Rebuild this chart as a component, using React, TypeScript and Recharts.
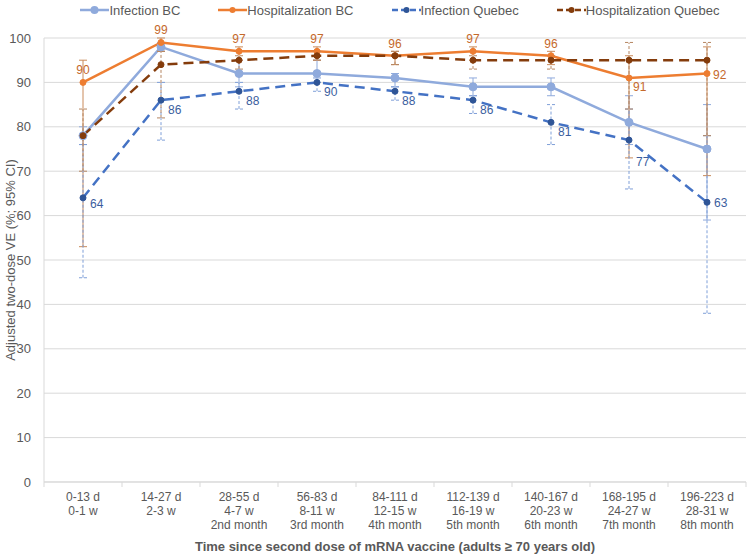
import { LineChart, Line, XAxis, YAxis, CartesianGrid, ErrorBar, Legend } from "recharts";

const days = ["0-13 d", "14-27 d", "28-55 d", "56-83 d", "84-111 d", "112-139 d", "140-167 d", "168-195 d", "196-223 d"];
const weeks = ["0-1 w", "2-3 w", "4-7 w", "8-11 w", "12-15 w", "16-19 w", "20-23 w", "24-27 w", "28-31 w"];
const months = ["", "", "2nd month", "3rd month", "4th month", "5th month", "6th month", "7th month", "8th month"];

// point estimates
const infBC = [78, 98, 92, 92, 91, 89, 89, 81, 75];
const hospBC = [90, 99, 97, 97, 96, 97, 96, 91, 92];
const infQC = [64, 86, 88, 90, 88, 86, 81, 77, 63];
const hospQC = [78, 94, 95, 96, 96, 95, 95, 95, 95];

// 95% CI bounds
const infBCLow = [76, 97, 89, 90, 89, 87, 87, 76, 59];
const infBCHigh = [80, 99, 95, 95, 92, 91, 91, 87, 85];
const hospBCLow = [53, 97, 95, 95, 94, 95, 94, 73, 69];
const hospBCHigh = [95, 100, 98, 98, 97, 98, 97, 96, 98];
const infQCLow = [46, 77, 84, 88, 86, 83, 76, 66, 38];
const infQCHigh = [76, 90, 90, 91, 89, 87, 85, 84, 78];
const hospQCLow = [70, 82, 93, 95, 94, 93, 93, 84, 78];
const hospQCHigh = [84, 97, 96, 97, 97, 96, 96, 99, 99];

const yTicks = [0, 10, 20, 30, 40, 50, 60, 70, 80, 90, 100];

const err = (v: number[], lo: number[], hi: number[], i: number) => [v[i] - lo[i], hi[i] - v[i]];

const data = days.map((d, i) => ({
  day: d,
  infBC: infBC[i],
  infBCErr: err(infBC, infBCLow, infBCHigh, i),
  hospBC: hospBC[i],
  hospBCErr: err(hospBC, hospBCLow, hospBCHigh, i),
  infQC: infQC[i],
  infQCErr: err(infQC, infQCLow, infQCHigh, i),
  hospQC: hospQC[i],
  hospQCErr: err(hospQC, hospQCLow, hospQCHigh, i),
}));

const W = 750;
const H = 555;
const Y_W = 44;
const RIGHT = 4;
const HALF_BAND = (W - Y_W - RIGHT) / days.length / 2;
const FONT = '"Liberation Sans", Arial, sans-serif';
const GREY = "#595959";
const TICK_FS = 12;

const legendItems = [
  { name: "Infection BC", color: "#8FAADC", dash: undefined, r: 4 },
  { name: "Hospitalization BC", color: "#ED7D31", dash: undefined, r: 3 },
  { name: "Infection Quebec", color: "#4472C4", dash: "6 3", r: 3, dot: "#2F5597" },
  { name: "Hospitalization Quebec", color: "#843C0C", dash: "6 3", r: 3 },
];

function LegendBox() {
  return (
    <div style={{ height: 38, width: W, display: "flex", justifyContent: "center", paddingLeft: 50, boxSizing: "border-box", gap: 38 }}>
      {legendItems.map((it) => (
        <div key={it.name} style={{ display: "flex", alignItems: "center", height: 20, fontSize: 13, color: GREY, flexShrink: 0, whiteSpace: "nowrap" }}>
          <svg width={29} height={10} style={{ flexShrink: 0 }}>
            <line x1={0} y1={5} x2={29} y2={5} stroke={it.color} strokeWidth={2.5} strokeDasharray={it.dash} />
            <circle cx={14.5} cy={5} r={it.r} fill={it.dot || it.color} />
          </svg>
          <span>{it.name}</span>
        </div>
      ))}
    </div>
  );
}

function XTick(props: any) {
  const { x, y, payload, index } = props;
  const i = days.indexOf(payload.value);
  return (
    <g>
      <line x1={x - HALF_BAND} y1={y} x2={x - HALF_BAND} y2={y + 5} stroke="#D9D9D9" />
      {index === days.length - 1 && <line x1={x + HALF_BAND} y1={y} x2={x + HALF_BAND} y2={y + 5} stroke="#D9D9D9" />}
      <text x={x} y={y + 19} textAnchor="middle" fill={GREY} fontSize={TICK_FS}>{days[i]}</text>
      <text x={x} y={y + 33} textAnchor="middle" fill={GREY} fontSize={TICK_FS}>{weeks[i]}</text>
      {months[i] && <text x={x} y={y + 47} textAnchor="middle" fill={GREY} fontSize={TICK_FS}>{months[i]}</text>}
    </g>
  );
}

const hospBCLabel = (p: any) => {
  const { x, y, value, index } = p;
  let tx = x, ty = y - 8, anchor = "middle";
  if (index === 7) { tx = x + 4; ty = y + 13; anchor = "start"; }
  if (index === 8) { tx = x + 6; ty = y + 5; anchor = "start"; }
  return <text key={index} x={tx} y={ty} textAnchor={anchor} fill="#C5692B" fontSize={12}>{value}</text>;
};

const infQCLabel = (p: any) => {
  const { x, y, value, index } = p;
  let dy = 14;
  if (index === 0) dy = 10;
  if (index === 7) dy = 26;
  if (index === 8) dy = 5;
  return <text key={index} x={x + 7} y={y + dy} fill="#3B5E9E" fontSize={12}>{value}</text>;
};

export default function App() {
  return (
    <div style={{ position: "absolute", left: 0, top: 0, fontFamily: FONT }}>
      <LineChart width={W} height={H} data={data} margin={{ top: 0, right: RIGHT, left: 0, bottom: 0 }}>
        <Legend verticalAlign="top" align="left" content={() => <LegendBox />} wrapperStyle={{ height: 38 }} />
        <CartesianGrid vertical={false} stroke="#D9D9D9" />
        <XAxis
          dataKey="day"
          height={H - 482}
          padding={{ left: HALF_BAND, right: HALF_BAND }}
          axisLine={{ stroke: "#D9D9D9" }}
          tickLine={false}
          tickSize={0}
          tickMargin={0}
          interval={0}
          tick={<XTick />}
          label={{ value: "Time since second dose of mRNA vaccine (adults ≥ 70 years old)", position: "insideBottom", offset: 4, fill: GREY, fontSize: 13, fontWeight: "bold" }}
        />
        <YAxis
          width={Y_W}
          domain={[0, 100]}
          ticks={yTicks}
          axisLine={{ stroke: "#D9D9D9" }}
          tickLine={false}
          tickSize={6}
          tickMargin={7}
          tick={{ fill: GREY, fontSize: 13 }}
          label={{ value: "Adjusted two-dose VE (%; 95% CI)", angle: -90, position: "insideLeft", offset: 10, fill: GREY, fontSize: 13, style: { textAnchor: "middle" } }}
        />
        <Line dataKey="infBC" name="Infection BC" stroke="#8FAADC" strokeWidth={2.5} isAnimationActive={false}
          dot={{ r: 4, fill: "#8FAADC", stroke: "#8FAADC", strokeWidth: 1 }}>
          <ErrorBar dataKey="infBCErr" direction="y" width={4} stroke="#8FAADC" strokeWidth={1} isAnimationActive={false} />
        </Line>
        <Line dataKey="hospBC" name="Hospitalization BC" stroke="#ED7D31" strokeWidth={2.5} isAnimationActive={false}
          dot={{ r: 3, fill: "#ED7D31", stroke: "#ED7D31", strokeWidth: 1 }} label={hospBCLabel}>
          <ErrorBar dataKey="hospBCErr" direction="y" width={4} stroke="#C98A5A" strokeWidth={1} isAnimationActive={false} />
        </Line>
        <Line dataKey="infQC" name="Infection Quebec" stroke="#4472C4" strokeWidth={2.5} strokeDasharray="10 6" isAnimationActive={false}
          dot={{ r: 3, fill: "#2F5597", stroke: "#2F5597", strokeWidth: 1, strokeDasharray: "0" }} label={infQCLabel}>
          <ErrorBar dataKey="infQCErr" direction="y" width={4} stroke="#7F9FD8" strokeWidth={1} strokeDasharray="3 2" isAnimationActive={false} />
        </Line>
        <Line dataKey="hospQC" name="Hospitalization Quebec" stroke="#843C0C" strokeWidth={2.5} strokeDasharray="10 6" isAnimationActive={false}
          dot={{ r: 3, fill: "#843C0C", stroke: "#843C0C", strokeWidth: 1, strokeDasharray: "0" }}>
          <ErrorBar dataKey="hospQCErr" direction="y" width={4} stroke="#B58560" strokeWidth={1} strokeDasharray="3 2" isAnimationActive={false} />
        </Line>
      </LineChart>
    </div>
  );
}
